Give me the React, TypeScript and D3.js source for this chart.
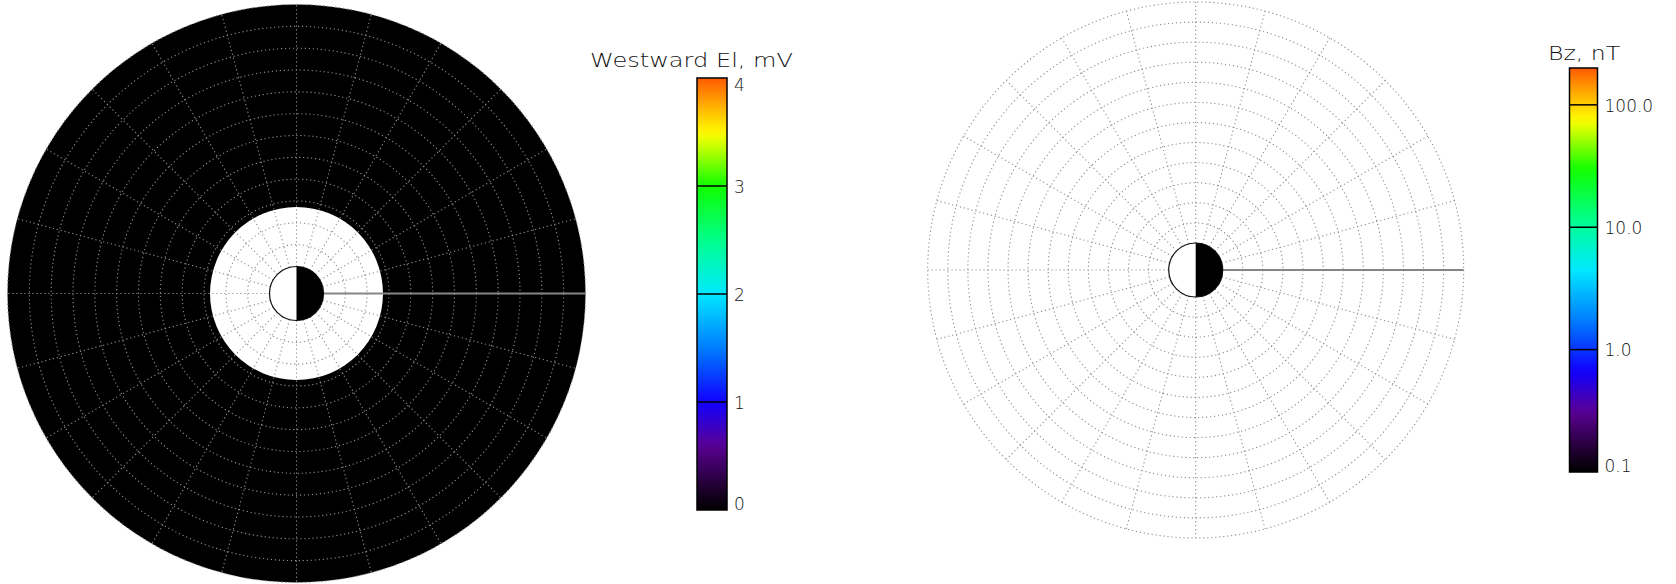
import React from "react";
import * as d3 from "d3";

// ---------- data ----------
// grid rings (colatitude, degrees) and spokes (magnetic local time, hours)
const RING_COLAT = [2, 4, 6, 8, 10, 12, 14, 16, 18, 20, 22, 24, 26];
const SPOKE_HOURS = [0, 1, 2, 3, 4, 5, 6, 7, 8, 9, 10, 11, 12, 13, 14, 15, 16, 17, 18, 19, 20, 21, 22, 23];
const SOLID_HOUR = 12;

// left panel field: bands of westward electric field (colat from, colat to, value mV)
const EL_FROM = [7.45];
const EL_TO = [26];
const EL_VALUE = [0];

// right panel field (Bz, nT): no filled bands
const BZ_FROM: number[] = [];
const BZ_TO: number[] = [];
const BZ_VALUE: number[] = [];

// colorbars
const EL_TITLE = "Westward El, mV";
const EL_DOMAIN = [0, 4];
const EL_TICKS = [0, 1, 2, 3, 4];
const EL_TICK_LABELS = ["0", "1", "2", "3", "4"];

const BZ_TITLE = "Bz, nT";
const BZ_DOMAIN = [0.1, 200];
const BZ_TICKS = [0.1, 1, 10, 100];
const BZ_TICK_LABELS = ["0.1", "1.0", "10.0", "100.0"];

// colour table (fraction -> colour)
const CMAP_T = [0, 0.07, 0.15, 0.25, 0.37, 0.5, 0.62, 0.75, 0.87, 0.94, 1];
const CMAP_C = ["#000000", "#2a0040", "#5a0095", "#1000ff", "#0078ff", "#00e8ff", "#00ff90", "#10ff00", "#ffff00", "#ffa800", "#ff5a00"];

const cmap = d3.scaleLinear<string>().domain(CMAP_T).range(CMAP_C).interpolate(d3.interpolateRgb).clamp(true);

const W = 1676;
const H = 584;
const FONT = "'DejaVu Sans ExtraLight', 'DejaVu Sans Light', 'Liberation Sans', sans-serif";
const GRID = "#8e8e8e";

type DiskProps = {
  cx: number;
  cy: number;
  rOuter: number;
  from: number[];
  to: number[];
  values: number[];
  valueToT: (v: number) => number;
};

function Disk({ cx, cy, rOuter, from, to, values, valueToT }: DiskProps) {
  const r = d3.scaleLinear().domain([RING_COLAT[0], RING_COLAT[RING_COLAT.length - 1]]).range([27, rOuter]);
  const arc = d3.arc<any>();
  const ang = (h: number) => ((h - SOLID_HOUR) * 15 * Math.PI) / 180;
  const r0 = r(RING_COLAT[0]);
  const r1 = r(RING_COLAT[RING_COLAT.length - 1]);
  return (
    <g transform={`translate(${cx},${cy})`}>
      {from.map((f, i) => (
        <path
          key={"f" + i}
          d={arc({ innerRadius: r(f), outerRadius: r(to[i]), startAngle: 0, endAngle: 2 * Math.PI }) as string}
          fill={cmap(valueToT(values[i]))}
        />
      ))}
      {RING_COLAT.slice(1).map((c) => (
        <circle key={"r" + c} r={r(c)} fill="none" stroke={GRID} strokeWidth={1.1} strokeDasharray="1.2,2.8" />
      ))}
      {SPOKE_HOURS.filter((h) => h !== SOLID_HOUR).map((h) => (
        <line
          key={"s" + h}
          x1={r0 * Math.cos(ang(h))}
          y1={-r0 * Math.sin(ang(h))}
          x2={r1 * Math.cos(ang(h))}
          y2={-r1 * Math.sin(ang(h))}
          stroke={GRID}
          strokeWidth={1.1}
          strokeDasharray="1.2,2.8"
        />
      ))}
      <line x1={r0} y1={0} x2={r1} y2={0} stroke="#858585" strokeWidth={2} />
      <circle r={r0} fill="#fff" stroke="#111" strokeWidth={1.2} />
      <path d={arc({ innerRadius: 0, outerRadius: r0, startAngle: 0, endAngle: Math.PI }) as string} fill="#000" />
    </g>
  );
}

type BarProps = {
  x: number;
  y0: number;
  y1: number;
  w: number;
  scale: (v: number) => number;
  ticks: number[];
  labels: string[];
  title: string;
  titleX: number;
  titleY: number;
  titleLen: number;
  id: string;
  labelSize: number;
};

function ColorBar({ x, y0, y1, w, scale, ticks, labels, title, titleX, titleY, titleLen, id, labelSize }: BarProps) {
  const stops = d3.range(0, 1.0001, 0.02);
  return (
    <g>
      <defs>
        <linearGradient id={id} x1="0" y1="1" x2="0" y2="0">
          {stops.map((t) => (
            <stop key={t} offset={t} stopColor={cmap(t)} />
          ))}
        </linearGradient>
      </defs>
      <text x={titleX} y={titleY} fontFamily={FONT} fontSize={20} fill="#111" textLength={titleLen} lengthAdjust="spacingAndGlyphs">
        {title}
      </text>
      <rect x={x} y={y0} width={w} height={y1 - y0} fill={`url(#${id})`} stroke="#000" strokeWidth={1.5} />
      {ticks.map((t, i) => {
        const y = scale(t);
        const isTop = Math.abs(y - y0) < 3;
        const isBot = Math.abs(y - y1) < 3;
        return (
          <g key={"t" + i}>
            {!isTop && !isBot && <line x1={x} x2={x + w} y1={y} y2={y} stroke="#000" strokeWidth={1.5} />}
            <text
              x={x + w + 7}
              y={isTop ? y + 13 : isBot ? y : y + labelSize * 0.4}
              fontFamily={FONT}
              fontSize={labelSize}
              fill="#111"
            >
              {labels[i]}
            </text>
          </g>
        );
      })}
    </g>
  );
}

export default function App() {
  const elScale = d3.scaleLinear().domain(EL_DOMAIN).range([510, 78]);
  const bzScale = d3.scaleLog().domain(BZ_DOMAIN).range([472, 68]);
  const elT = d3.scaleLinear().domain(EL_DOMAIN).range([0, 1]).clamp(true);
  const bzT = d3.scaleLog().domain(BZ_DOMAIN).range([0, 1]).clamp(true);
  return (
    <svg width={W} height={H} style={{ position: "absolute", left: 0, top: 0, background: "#fff" }}>
      <Disk cx={296.5} cy={293.5} rOuter={289} from={EL_FROM} to={EL_TO} values={EL_VALUE} valueToT={(v) => elT(v)} />
      <Disk cx={1195.7} cy={270} rOuter={268} from={BZ_FROM} to={BZ_TO} values={BZ_VALUE} valueToT={(v) => bzT(v)} />
      <ColorBar
        x={697}
        y0={78}
        y1={510}
        w={30}
        scale={elScale}
        ticks={EL_TICKS}
        labels={EL_TICK_LABELS}
        title={EL_TITLE}
        titleX={590}
        titleY={67}
        titleLen={203}
        id="elbar"
        labelSize={17}
      />
      <ColorBar
        x={1569.5}
        y0={68}
        y1={472}
        w={28}
        scale={bzScale}
        ticks={BZ_TICKS}
        labels={BZ_TICK_LABELS}
        title={BZ_TITLE}
        titleX={1548}
        titleY={60}
        titleLen={72}
        id="bzbar"
        labelSize={17}
      />
    </svg>
  );
}
